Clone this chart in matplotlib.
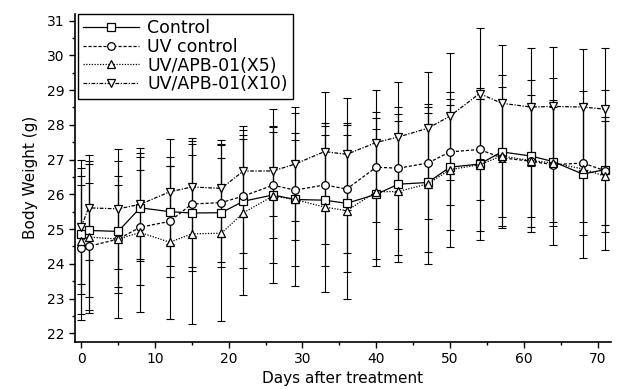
import numpy as np
import matplotlib
matplotlib.use("Agg")
import matplotlib.pyplot as plt
from matplotlib.ticker import MultipleLocator

plt.rcParams["font.family"] = ["DejaVu Sans"]

# ── Data ──────────────────────────────────────────────────────────────────────
days = [0, 1, 5, 8, 12, 15, 19, 22, 26, 29, 33, 36, 40, 43, 47, 50, 54, 57, 61, 64, 68, 71]

control    = [24.85, 24.96, 24.93, 25.61, 25.50, 25.46, 25.47, 25.80, 25.98, 25.85, 25.83,
              25.74, 26.00, 26.29, 26.34, 26.78, 26.87, 27.22, 27.10, 26.94, 26.58, 26.71]
control_sd = [1.43, 1.91, 1.59, 1.46, 1.57, 1.67, 1.56, 1.91, 1.95, 1.91, 1.89,
              1.98, 1.87, 2.03, 2.01, 1.80, 2.20, 2.20, 2.20, 2.40, 2.40, 2.30]

uv_control = [24.45, 24.50, 24.71, 25.05, 25.22, 25.72, 25.76, 25.95, 26.26, 26.12, 26.27,
              26.15, 26.78, 26.75, 26.90, 27.22, 27.29, 27.05, 26.95, 26.85, 26.90, 26.68]
uv_sd      = [2.07, 1.83, 1.55, 1.66, 1.60, 1.82, 1.70, 1.65, 1.52, 1.45, 1.69,
              1.83, 1.59, 1.75, 1.60, 1.52, 1.45, 1.70, 1.60, 1.65, 1.70, 1.55]

apb_x5     = [24.65, 24.77, 24.71, 24.90, 24.62, 24.86, 24.88, 25.47, 25.95, 25.85, 25.63,
              25.53, 26.07, 26.08, 26.30, 26.71, 26.85, 27.10, 26.97, 26.90, 26.73, 26.52]
x5_sd      = [2.10, 2.20, 2.26, 2.30, 2.20, 2.59, 2.53, 2.37, 2.50, 2.50, 2.43,
              2.53, 2.13, 2.04, 2.30, 2.22, 1.90, 2.00, 1.90, 1.80, 1.90, 1.60]

apb_x10    = [25.05, 25.61, 25.58, 25.71, 26.07, 26.21, 26.17, 26.67, 26.67, 26.87, 27.23,
              27.15, 27.49, 27.65, 27.90, 28.25, 28.90, 28.62, 28.51, 28.53, 28.51, 28.45]
x10_sd     = [1.93, 1.51, 1.72, 1.63, 1.51, 1.42, 1.39, 1.30, 1.30, 1.65, 1.72,
              1.61, 1.51, 1.59, 1.61, 1.83, 1.88, 1.69, 1.69, 1.70, 1.66, 1.77]

labels = ["Control", "UV control", "UV/APB-01(X5)", "UV/APB-01(X10)"]

# ── Plot ──────────────────────────────────────────────────────────────────────
fig, ax = plt.subplots(figsize=(6.17, 3.89), dpi=100)
fig.subplots_adjust(left=0.122, right=0.99, bottom=0.121, top=0.965)

series = [
    (control,    control_sd, "s", "-",                    labels[0]),
    (uv_control, uv_sd,      "o", (0, (2.5, 1.5)),        labels[1]),
    (apb_x5,     x5_sd,      "^", (0, (1, 1.2)),          labels[2]),
    (apb_x10,    x10_sd,     "v", (0, (3, 1.2, 1, 1.2)),  labels[3]),
]

for y, sd, mk, ls, lab in series:
    ax.errorbar(days, y, yerr=sd, fmt="none", ecolor="black", elinewidth=0.8,
                capsize=3, capthick=0.8, zorder=2)
    ax.plot(days, y, color="black", lw=0.9, ls=ls, marker=mk, ms=5.5,
            mfc="white", mec="black", mew=0.9, label=lab, zorder=3)

ax.set_xlim(-0.8, 71.8)
ax.set_ylim(21.75, 31.2)
ax.xaxis.set_major_locator(MultipleLocator(10))
ax.xaxis.set_minor_locator(MultipleLocator(5))
ax.yaxis.set_major_locator(MultipleLocator(1))
ax.yaxis.set_minor_locator(MultipleLocator(0.5))
ax.tick_params(which="major", length=4, width=1, labelsize=10)
ax.tick_params(which="minor", length=2, width=1)

for s in ["top", "right"]:
    ax.spines[s].set_visible(False)
for s in ["left", "bottom"]:
    ax.spines[s].set_linewidth(1.2)

ax.set_xlabel("Days after treatment", fontsize=11, labelpad=3)
ax.set_ylabel("Body Weight (g)", fontsize=11, labelpad=7)

leg = ax.legend(loc="upper left", bbox_to_anchor=(0.005, 1.0), fontsize=12.5,
                frameon=True, fancybox=False, edgecolor="black", framealpha=1,
                handlelength=3.2, handletextpad=0.5, labelspacing=0.05,
                borderpad=0.3, borderaxespad=0.0)
leg.get_frame().set_linewidth(1.0)

fig.savefig("out.png", dpi=100)
